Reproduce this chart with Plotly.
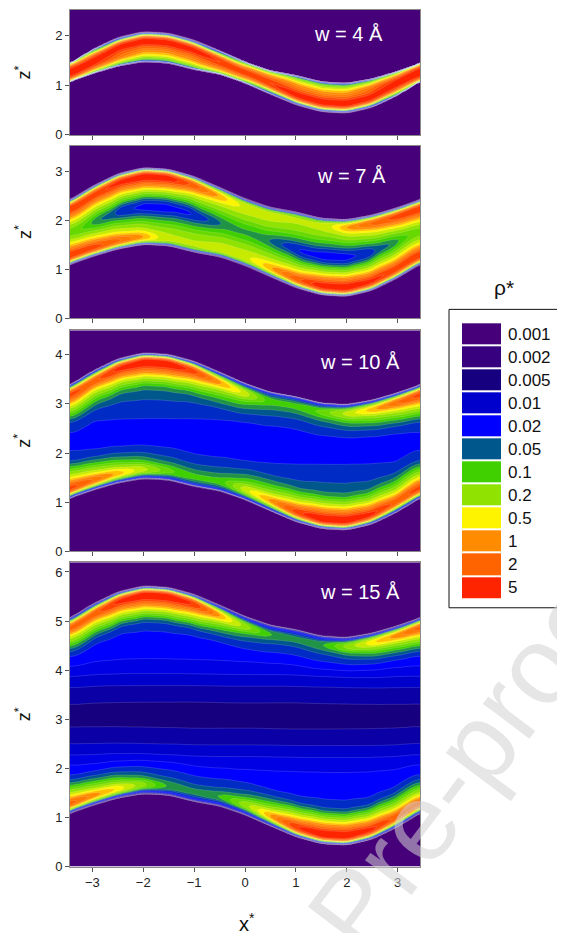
import numpy as np
import plotly.graph_objects as go

# ---------------- data ----------------

# contour levels of rho* (legend) and their fill colours
LEVELS = [0.001, 0.002, 0.005, 0.01, 0.02, 0.05, 0.1, 0.2, 0.5, 1, 2, 5]
LEVEL_LABELS = ["0.001", "0.002", "0.005", "0.01", "0.02", "0.05",
                "0.1", "0.2", "0.5", "1", "2", "5"]
LEVEL_COLORS = ["#46007a", "#36007f", "#170080", "#0000cc", "#0000ff", "#00578c",
                "#40d000", "#90e200", "#fff400", "#ff8c00", "#ff6400", "#ff2400"]

PANEL_LABELS = ["w = 4 Å", "w = 7 Å", "w = 10 Å", "w = 15 Å"]
Z_TOP = [2.52, 3.52, 4.5, 6.2]        # top of each z* axis
PORE_H = [2.52, 3.52, 4.47, 6.15]     # upper wall = PORE_H - lower wall(-x)

# fluid edge on the lower (corrugated) wall
X_KNOTS = [-3.44, -3.0, -2.5, -2.0, -1.5, -1.0, -0.5, 0.0, 0.5, 1.0, 1.5, 2.0, 2.5, 3.0, 3.44]
LOWER_WALL = [1.08, 1.24, 1.39, 1.48, 1.45, 1.32, 1.23, 1.05, 0.82, 0.60, 0.46, 0.43, 0.55, 0.80, 1.08]

# peak rho* of the contact layer along the lower wall, per panel
PEAK_W4 = [5.0, 3.8, 1.0, 0.25, 0.2, 0.3, 0.8, 2.2, 4.5, 7.0, 8.0, 8.0, 7.0, 5.0, 5.0]
PEAK_W7 = [5.0, 4.0, 2.0, 0.8, 0.1, 0.05, 0.05, 0.15, 0.7, 2.5, 8.0, 9.0, 6.0, 4.0, 5.0]
PEAK_W10 = [4.0, 2.0, 0.8, 0.3, 0.08, 0.04, 0.04, 0.35, 1.0, 4.0, 10.0, 10.0, 6.0, 2.5, 4.0]
PEAK_W15 = [2.5, 1.2, 0.6, 0.18, 0.04, 0.03, 0.05, 0.2, 1.0, 5.0, 10.0, 10.0, 6.0, 2.5, 2.5]

# weak, broad adsorbed density along the lower wall, per panel
BROAD_W4 = [0.05, 0.05, 0.05, 0.05, 0.05, 0.05, 0.05, 0.05, 0.05, 0.05, 0.05, 0.05, 0.05, 0.05, 0.05]
BROAD_W7 = [0.2, 0.22, 0.28, 0.28, 0.26, 0.28, 0.3, 0.3, 0.28, 0.22, 0.06, 0.05, 0.15, 0.22, 0.2]
BROAD_W10 = [0.08, 0.07, 0.06, 0.05, 0.04, 0.03, 0.03, 0.04, 0.05, 0.03, 0.015, 0.015, 0.03, 0.07, 0.08]
BROAD_W15 = [0.05, 0.05, 0.045, 0.035, 0.03, 0.025, 0.025, 0.035, 0.04, 0.02, 0.01, 0.01, 0.025, 0.05, 0.05]

# pore-centre density vs distance from the mid-plane
CORE_C = [0.0, 0.4, 0.6, 0.8, 1.05, 1.3, 1.7, 2.2, 3.2]
CORE_W4 = [0.0, 0.0, 0.0, 0.0, 0.0, 0.0, 0.0, 0.0, 0.0]
CORE_W7 = [0.0, 0.0, 0.0, 0.0, 0.0, 0.0, 0.0, 0.0, 0.0]
CORE_W10 = [0.024, 0.028, 0.036, 0.044, 0.05, 0.05, 0.05, 0.05, 0.05]
CORE_W15 = [0.006, 0.0075, 0.0098, 0.013, 0.018, 0.022, 0.026, 0.03, 0.03]

# layer shapes vs distance from a wall (log10, relative to the peak)
CONTACT_D = [0.0, 0.04, 0.08, 0.12, 0.16, 0.20, 0.25, 0.30, 0.36, 0.42, 0.50, 0.60, 0.70, 0.85, 1.00, 1.30, 1.60]
CONTACT_LOG = [-4.0, -2.2, -1.0, -0.35, -0.05, 0.0, -0.12, -0.45, -0.8, -1.1, -1.5, -2.0, -2.5, -3.1, -3.5, -4.2, -5.0]
BROAD_D = [0.0, 0.04, 0.08, 0.12, 0.30, 0.45, 0.60, 0.80, 1.00, 1.30, 1.70, 2.50]
BROAD_LOG = [-4.0, -1.5, -0.5, 0.0, 0.0, -0.25, -0.6, -1.35, -1.8, -2.2, -2.7, -3.5]
EDGE_D = [0.0, 0.03, 0.07]
EDGE_F = [0.0, 0.4, 1.0]

PEAKS = [PEAK_W4, PEAK_W7, PEAK_W10, PEAK_W15]
BROADS = [BROAD_W4, BROAD_W7, BROAD_W10, BROAD_W15]
CORES = [CORE_W4, CORE_W7, CORE_W10, CORE_W15]

# ---------------- density maps ----------------

xg = np.linspace(-3.44, 3.44, 241)


def along_x(vals, log=False, half=3):
    v = np.interp(xg, X_KNOTS, np.log10(vals) if log else vals)
    core = v[:-1]
    k = np.ones(2 * half + 1) / (2 * half + 1)
    for _ in range(2):
        core = np.convolve(np.concatenate([core[-half:], core, core[:half]]), k, mode="valid")
    v = np.append(core, core[0])
    return 10 ** v if log else v


def profile(d, ds, logs):
    return 10 ** np.interp(d, ds, logs, left=-9, right=-9)


def panel_map(p):
    H = PORE_H[p]
    zg = np.arange(0, Z_TOP[p] + 1e-9, 0.02)
    X, Z = np.meshgrid(xg, zg)
    low = along_x(LOWER_WALL)
    up = H - low[::-1]
    d_lo = (Z - low) / np.sqrt(1 + np.gradient(low, xg) ** 2)
    d_up = (up - Z) / np.sqrt(1 + np.gradient(up, xg) ** 2)
    A = along_x(PEAKS[p], log=True)
    F = along_x(BROADS[p], log=True)
    rho = (A * profile(d_lo, CONTACT_D, CONTACT_LOG) + A[::-1] * profile(d_up, CONTACT_D, CONTACT_LOG)
           + F * profile(d_lo, BROAD_D, BROAD_LOG) + F[::-1] * profile(d_up, BROAD_D, BROAD_LOG))
    rho = rho + np.interp(np.abs(Z - H / 2), CORE_C, CORES[p])
    rho = rho * np.interp(d_lo, EDGE_D, EDGE_F) * np.interp(d_up, EDGE_D, EDGE_F)
    lev = np.log10(LEVELS)
    idx = np.interp(np.log10(rho + 1e-9), np.r_[-5.0, lev, lev[-1] + 1.0],
                    np.r_[-1.0, np.arange(len(LEVELS)), len(LEVELS)])
    return zg, idx.round(3)


def mix(c1, c2):
    a = [int(c1[i:i + 2], 16) for i in (1, 3, 5)]
    b = [int(c2[i:i + 2], 16) for i in (1, 3, 5)]
    return "rgb(%d,%d,%d)" % tuple((x + y) // 2 for x, y in zip(a, b))


# one colour per filled band: background, then two bands per legend level
bands = [LEVEL_COLORS[0]]
for k in range(len(LEVELS) - 1):
    bands += [LEVEL_COLORS[k], mix(LEVEL_COLORS[k], LEVEL_COLORS[k + 1])]
bands.append(LEVEL_COLORS[-1])
band_scale = [[i / (len(bands) - 1), c] for i, c in enumerate(bands)]

# ---------------- figure ----------------

# the page body adds an 8 px margin, so the figure is 8 px smaller and
# positions below are given in window pixels and shifted by OFF
OFF = 8
W, HPX = 565 - OFF, 933 - OFF


def px_x(v):
    return (v - OFF) / W


def px_y(v):
    return (HPX - (v - OFF)) / HPX


PANEL_PX = [(10, 136), (147, 321), (333, 556), (567, 874)]
X_DOM = [px_x(70), px_x(420)]
FONT = "Arial, Liberation Sans, sans-serif"

fig = go.Figure()
layout = dict(width=W, height=HPX, margin=dict(l=0, r=0, t=0, b=0),
              paper_bgcolor="white", plot_bgcolor="white", showlegend=False,
              font=dict(family=FONT, color="#222"))
annotations = []

for p in range(4):
    zg, idx = panel_map(p)
    n = p + 1
    fig.add_trace(go.Contour(
        x=xg, y=zg, z=idx, xaxis="x%d" % n, yaxis="y%d" % n,
        autocontour=False, contours=dict(start=0, end=11, size=0.5, coloring="fill"),
        colorscale=band_scale, showscale=False, hoverinfo="skip",
        line=dict(color="rgba(255,255,255,0.3)", width=0.5, smoothing=1),
    ))
    top, bot = PANEL_PX[p]
    ydom = [px_y(bot), px_y(top)]
    layout["xaxis%d" % n] = dict(
        domain=X_DOM, anchor="y%d" % n, range=[-3.44, 3.44],
        tickvals=[-3, -2, -1, 0, 1, 2, 3], ticks="outside", ticklen=4, tickcolor="#555",
        showticklabels=(p == 3), tickfont=dict(size=13), showgrid=False, zeroline=False,
        showline=True, mirror=True, linecolor="#8a8a8a", linewidth=1)
    layout["yaxis%d" % n] = dict(
        domain=ydom, anchor="x%d" % n, range=[0, Z_TOP[p]], dtick=1,
        ticks="outside", ticklen=4, tickcolor="#555", tickfont=dict(size=13),
        showgrid=False, zeroline=False, showline=True, mirror=True,
        linecolor="#8a8a8a", linewidth=1)
    annotations.append(dict(
        text=PANEL_LABELS[p], xref="paper", yref="paper", showarrow=False,
        x=px_x([348, 351, 360, 360][p]), y=px_y([34, 177, 365, 597][p]),
        xanchor="center", yanchor="middle", font=dict(size=20, color="white")))
    annotations.append(dict(
        text="z<sup>*</sup>", xref="paper", yref="paper", showarrow=False, textangle=-90,
        x=px_x(23), y=(ydom[0] + ydom[1]) / 2, xanchor="center", yanchor="middle",
        font=dict(size=18, color="#111")))

# legend swatches as a one-column heatmap
fig.add_trace(go.Heatmap(
    z=[[i] for i in range(len(LEVELS))], x=[0], y=list(range(len(LEVELS))),
    colorscale=[[i / (len(LEVELS) - 1), c] for i, c in enumerate(LEVEL_COLORS)],
    zmin=0, zmax=len(LEVELS) - 1, showscale=False, ygap=2, hoverinfo="skip",
    xaxis="x5", yaxis="y5"))
layout["xaxis5"] = dict(domain=[px_x(462), px_x(501)], anchor="y5", visible=False)
layout["yaxis5"] = dict(
    domain=[px_y(604), px_y(325)], anchor="x5", autorange="reversed",
    side="right", tickvals=list(range(len(LEVELS))), ticktext=LEVEL_LABELS,
    ticks="", ticklabelstandoff=6, tickfont=dict(size=17, color="#111"),
    showgrid=False, zeroline=False, showline=False)

annotations += [
    dict(text="ρ*", xref="paper", yref="paper", x=px_x(504), y=px_y(290),
         xanchor="center", yanchor="middle", showarrow=False,
         font=dict(size=21, color="#111")),
    dict(text="x<sup>*</sup>", xref="paper", yref="paper", x=px_x(247), y=px_y(916),
         xanchor="center", yanchor="top", showarrow=False, font=dict(size=20, color="#111")),
    dict(text="Pre-proof", xref="paper", yref="paper", x=px_x(470), y=px_y(760),
         xanchor="center", yanchor="middle", textangle=-53, showarrow=False,
         font=dict(size=110, color="rgba(210,210,210,0.55)")),
]
layout["annotations"] = annotations
layout["shapes"] = [dict(type="rect", xref="paper", yref="paper",
                         x0=px_x(449), x1=1.05, y0=px_y(613), y1=px_y(312),
                         line=dict(color="#111", width=1), fillcolor="rgba(0,0,0,0)")]

fig.update_layout(**layout)
fig.write_html("out.html")
